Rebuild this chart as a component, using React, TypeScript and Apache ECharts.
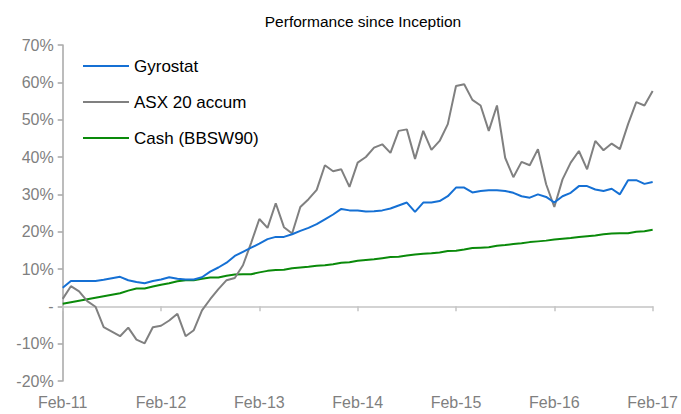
import React, { useEffect, useRef } from "react";
import * as echarts from "echarts";

const monthNames = ["Feb", "Mar", "Apr", "May", "Jun", "Jul", "Aug", "Sep", "Oct", "Nov", "Dec", "Jan"];
const startYear = 11;
const monthCount = 73;
const categories: string[] = [];
for (let i = 0; i < monthCount; i++) {
  const m = monthNames[i % 12];
  const yr = m === "Jan" ? startYear + Math.floor(i / 12) + 1 : startYear + Math.floor(i / 12);
  categories.push(`${m}-${yr}`);
}

const gyrostat = [
  5.0, 6.8, 6.8, 6.8, 6.8, 7.1, 7.5, 7.9, 7.0, 6.5, 6.2, 6.8,
  7.2, 7.8, 7.4, 7.2, 7.2, 7.8, 9.3, 10.4, 11.7, 13.5, 14.6, 15.7,
  16.8, 18.0, 18.6, 18.6, 19.3, 20.2, 21.0, 22.0, 23.3, 24.6, 26.1, 25.7,
  25.7, 25.4, 25.5, 25.7, 26.2, 27.0, 27.8, 25.3, 27.8, 27.8, 28.2, 29.5,
  31.8, 31.8, 30.5, 30.9, 31.1, 31.1, 30.9, 30.4, 29.5, 29.1, 30.0, 29.3,
  27.8, 29.5, 30.4, 32.2, 32.2, 31.3, 30.9, 31.5, 30.0, 33.8, 33.8, 32.8,
  33.3,
];

const asx20 = [
  2.0, 5.4, 4.0, 1.4, -0.1, -5.6, -6.8, -8.0, -5.7, -8.9, -9.9, -5.6,
  -5.2, -3.8, -2.0, -8.0, -6.4, -1.1, 1.9, 4.6, 7.0, 7.6, 11.0, 17.0,
  23.4, 21.0, 27.6, 21.2, 19.5, 26.6, 28.7, 31.2, 37.8, 36.2, 36.7, 32.0,
  38.5, 40.0, 42.5, 43.4, 41.1, 47.0, 47.4, 39.5, 47.0, 41.9, 44.3, 48.8,
  59.0, 59.5, 55.3, 53.8, 47.0, 53.8, 39.8, 34.6, 38.7, 37.8, 42.1, 32.7,
  26.6, 34.0, 38.5, 41.6, 36.7, 44.3, 41.8, 43.6, 42.1, 48.8, 54.7, 53.8,
  57.7,
];

const cash = [
  0.7, 1.1, 1.5, 1.9, 2.3, 2.7, 3.1, 3.5, 4.2, 4.8, 4.8, 5.3,
  5.8, 6.2, 6.7, 7.0, 7.0, 7.4, 7.7, 7.7, 8.2, 8.5, 8.6, 8.6,
  9.1, 9.5, 9.7, 9.8, 10.2, 10.4, 10.6, 10.9, 11.0, 11.3, 11.7, 11.8,
  12.2, 12.4, 12.6, 12.9, 13.2, 13.3, 13.6, 13.9, 14.1, 14.2, 14.4, 14.8,
  14.9, 15.2, 15.6, 15.7, 15.8, 16.2, 16.4, 16.7, 16.9, 17.2, 17.4, 17.6,
  17.9, 18.1, 18.3, 18.6, 18.8, 19.0, 19.3, 19.5, 19.6, 19.6, 20.0, 20.1,
  20.5,
];

const seriesNames = ["Gyrostat", "ASX 20 accum", "Cash (BBSW90)"];
const seriesColors = ["#1570d4", "#808080", "#0a8a0a"];
const titleText = "Performance since Inception";

const FONT = "'Liberation Sans', Arial, sans-serif";

export default function App() {
  const ref = useRef<HTMLDivElement>(null);
  useEffect(() => {
    document.body.style.margin = "0";
    if (!ref.current) return;
    const chart = echarts.init(ref.current, undefined, { renderer: "svg" });
    const values = [gyrostat, asx20, cash];
    chart.setOption({
      animation: false,
      backgroundColor: "#ffffff",
      title: {
        text: titleText,
        left: 358,
        top: 8,
        textAlign: "center",
        textStyle: { fontFamily: FONT, fontSize: 15.5, fontWeight: "normal", color: "#000000" },
      },
      legend: {
        orient: "vertical",
        left: 83,
        top: 56,
        padding: 0,
        itemWidth: 46,
        itemHeight: 2,
        itemGap: 16,
        icon: "rect",
        data: seriesNames,
        textStyle: { fontFamily: FONT, fontSize: 17, color: "#000000", lineHeight: 20 },
      },
      grid: { left: 62.7, right: 25, top: 45, bottom: 33 },
      xAxis: [
        {
          type: "category",
          data: categories,
          boundaryGap: false,
          position: "bottom",
          axisLine: { show: true, onZero: true, lineStyle: { color: "#c4c4c4", width: 1.5 } },
          axisTick: { show: true, interval: 11, length: 5, lineStyle: { color: "#c4c4c4", width: 1.5 } },
          axisLabel: { show: false },
          splitLine: { show: false },
        },
        {
          type: "category",
          data: categories,
          boundaryGap: false,
          position: "bottom",
          axisLine: { show: false, onZero: false },
          axisTick: { show: false },
          axisLabel: {
            show: true,
            interval: 11,
            margin: 13,
            fontFamily: FONT,
            fontSize: 16,
            color: "#7f7f7f",
          },
          splitLine: { show: false },
        },
      ],
      yAxis: {
        type: "value",
        min: -20,
        max: 70,
        interval: 10,
        axisLine: { show: true, lineStyle: { color: "#a6a6a6", width: 1.5 } },
        axisTick: { show: true, length: 5, lineStyle: { color: "#a6a6a6", width: 1.5 } },
        axisLabel: {
          fontFamily: FONT,
          fontSize: 16,
          color: "#7f7f7f",
          margin: 9,
          formatter: (v: number) => (v === 0 ? "-" : `${v}%`),
        },
        splitLine: { show: false },
      },
      series: seriesNames.map((name, k) => ({
        name,
        type: "line",
        xAxisIndex: 0,
        data: values[k],
        showSymbol: false,
        symbol: "none",
        color: seriesColors[k],
        lineStyle: { color: seriesColors[k], width: 2 },
        z: 3 - k,
      })),
    });
    return () => chart.dispose();
  }, []);
  return <div ref={ref} style={{ width: 681, height: 414 }} />;
}
